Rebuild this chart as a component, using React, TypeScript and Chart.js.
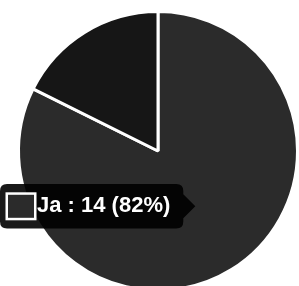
import React, { useEffect, useRef } from "react";
import { Chart, registerables, Tooltip } from "chart.js";

Chart.register(...registerables);

const labels = ["Ja", "Nein"];
const values = [14, 3];
const colors = ["#2b2b2b", "#161616"];

(Tooltip.positioners as any).shiftedAverage = function (items: any[], eventPosition: any) {
  const p = (Tooltip.positioners as any).average.call(this, items, eventPosition);
  if (!p) return p;
  return { x: p.x, y: p.y - 4 };
};

export default function App() {
  const ref = useRef<HTMLCanvasElement | null>(null);

  useEffect(() => {
    if (!ref.current) return;
    const total = values.reduce((a, b) => a + b, 0);
    const chart = new Chart(ref.current, {
      type: "pie",
      data: {
        labels,
        datasets: [
          {
            data: values,
            backgroundColor: colors,
            hoverBackgroundColor: colors,
            borderColor: "#ffffff",
            hoverBorderColor: "#ffffff",
            borderWidth: 3,
            hoverOffset: 0,
          },
        ],
      },
      options: {
        responsive: false,
        animation: false,
        events: [],
        layout: { padding: 10 },
        plugins: {
          legend: { display: false },
          tooltip: {
            enabled: true,
            position: "shiftedAverage" as any,
            xAlign: "right",
            yAlign: "center",
            backgroundColor: "rgba(0,0,0,0.9)",
            bodyFont: { size: 22, weight: "bold", family: "Arial, 'Liberation Sans', sans-serif" },
            bodyColor: "#ffffff",
            padding: { left: 7, right: 13, top: 9, bottom: 9 },
            boxWidth: 28,
            boxHeight: 25,
            caretSize: 12,
            caretPadding: 2,
            cornerRadius: 7,
            displayColors: true,
            callbacks: {
              title: () => "",
              label: (ctx: any) => {
                const v = ctx.raw as number;
                const pct = Math.round((v / total) * 100);
                return `${ctx.label} : ${v} (${pct}%)`;
              },
            },
          },
        },
      },
    });
    const active = [{ datasetIndex: 0, index: 0 }];
    chart.tooltip?.setActiveElements(active, { x: 195, y: 210 });
    chart.update();
    return () => chart.destroy();
  }, []);

  return (
    <div
      style={{
        position: "fixed",
        left: 0,
        top: 0,
        width: 299,
        height: 286,
        overflow: "hidden",
        background: "#ffffff",
      }}
    >
      <canvas
        ref={ref}
        width={316}
        height={302}
        style={{ position: "absolute", left: 0, top: 0, width: 316, height: 302 }}
      />
    </div>
  );
}
